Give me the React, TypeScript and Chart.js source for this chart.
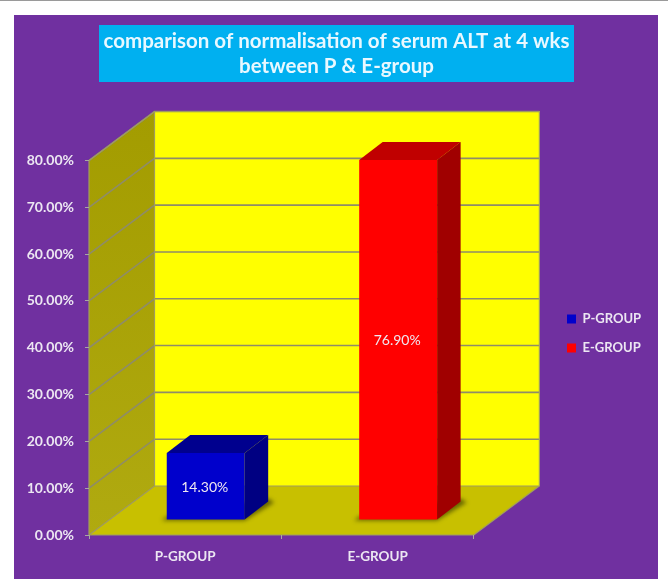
import React, { useEffect, useRef } from "react";
import { Chart, registerables } from "chart.js";

Chart.register(...registerables);

const categories = ["P-GROUP", "E-GROUP"];
const pGroupValues = [14.3, null];
const eGroupValues = [null, 76.9];
const valueLabels = ["14.30%", "76.90%"];
const titleLines = ["comparison of normalisation of serum ALT at 4 wks", "between P & E-group"];

const FONT = "Lato, 'Open Sans', sans-serif";
const TEXT = "#ece6f2";
const WALL_DX = 65.5;
const WALL_DY = -49;
const BAR_DX = 20.5;
const BAR_DY = -15;
const DEPTH_DX = 23.5;
const DEPTH_DY = -18;

const faceColors: Record<string, { top: string; side: string }> = {
  "P-GROUP": { top: "#00008e", side: "#000082" },
  "E-GROUP": { top: "#c00000", side: "#a00000" },
};

function poly(ctx: CanvasRenderingContext2D, pts: number[][], fill: string) {
  ctx.beginPath();
  pts.forEach(([x, y], i) => (i ? ctx.lineTo(x, y) : ctx.moveTo(x, y)));
  ctx.closePath();
  ctx.fillStyle = fill;
  ctx.fill();
}

const scene3d = {
  id: "scene3d",
  afterLayout(chart: any) {
    const lg = chart.legend;
    const h = lg.bottom - lg.top;
    const w = lg.right - lg.left;
    lg.left = 551;
    lg.right = 551 + w;
    lg.top = 296.5;
    lg.bottom = 296.5 + h;
    const t = chart.titleBlock;
    t.left = 0;
    t.right = 673;
  },
  beforeDraw(chart: any) {
    const { ctx, chartArea: a, scales } = chart;
    const y = scales.y;
    ctx.save();
    ctx.fillStyle = "#ffffff";
    ctx.fillRect(0, 0, chart.width, chart.height);
    ctx.fillStyle = "#9a9a9a";
    ctx.fillRect(0, 0, chart.width, 1);
    ctx.fillStyle = "#7030a0";
    ctx.fillRect(14, 15, 644, chart.height - 15);
    ctx.fillStyle = "#00b0f0";
    ctx.fillRect(99, 25, 475, 57);

    const bl = a.left + WALL_DX;
    const br = a.right + WALL_DX;
    const bt = a.top + WALL_DY;
    const bb = a.bottom + WALL_DY;
    // back wall
    poly(ctx, [[bl, bt], [br, bt], [br, bb], [bl, bb]], "#ffff00");
    // left wall
    const wall = ctx.createLinearGradient(0, bt, 0, a.bottom);
    wall.addColorStop(0, "#a39c00");
    wall.addColorStop(1, "#b0aa10");
    poly(ctx, [[a.left, a.top], [bl, bt], [bl, bb], [a.left, a.bottom]], wall);
    // floor
    poly(ctx, [[a.left, a.bottom], [a.right, a.bottom], [br, bb], [bl, bb]], "#c8c000");

    // gridlines through the walls
    ctx.lineWidth = 1.6;
    ctx.strokeStyle = "#8f8c68";
    y.ticks.forEach((t: any) => {
      if (t.value === 0) return;
      const py = y.getPixelForValue(t.value);
      ctx.beginPath();
      ctx.moveTo(a.left, py);
      ctx.lineTo(bl, py + WALL_DY);
      ctx.lineTo(br, py + WALL_DY);
      ctx.stroke();
    });
    ctx.strokeStyle = "#a09c60";
    ctx.lineWidth = 1.2;
    ctx.beginPath();
    ctx.moveTo(a.left, a.top);
    ctx.lineTo(a.left, a.bottom);
    ctx.lineTo(a.right, a.bottom);
    ctx.lineTo(br, bb);
    ctx.lineTo(br, bt);
    ctx.lineTo(bl, bt);
    ctx.lineTo(a.left, a.top);
    ctx.moveTo(a.left, a.bottom);
    ctx.lineTo(bl, bb);
    ctx.lineTo(br, bb);
    ctx.moveTo(bl, bb);
    ctx.lineTo(bl, bt);
    ctx.stroke();
    ctx.restore();
  },
  beforeDatasetsDraw(chart: any) {
    const { ctx } = chart;
    // contact shadows on the floor
    ctx.save();
    ctx.filter = "blur(2px)";
    chart.data.datasets.forEach((_: any, d: number) => {
      chart.getDatasetMeta(d).data.forEach((el: any, i: number) => {
        if (chart.data.datasets[d].data[i] == null) return;
        const l = el.x - el.width / 2 + BAR_DX;
        const r = el.x + el.width / 2 + BAR_DX;
        const b = el.base + BAR_DY;
        poly(ctx, [[l - 5, b + 1], [r, b + 1], [r + DEPTH_DX + 6, b + DEPTH_DY + 1], [r + DEPTH_DX, b + DEPTH_DY - 3], [l, b - 3]], "rgba(70,70,0,0.75)");
      });
    });
    ctx.restore();
    ctx.save();
    ctx.translate(BAR_DX, BAR_DY);
  },
  afterDatasetsDraw(chart: any) {
    const { ctx } = chart;
    ctx.restore();
    ctx.save();
    chart.data.datasets.forEach((_: any, d: number) => {
      chart.getDatasetMeta(d).data.forEach((el: any, i: number) => {
        if (chart.data.datasets[d].data[i] == null) return;
        const c = faceColors[categories[i]];
        const l = el.x - el.width / 2 + BAR_DX;
        const r = el.x + el.width / 2 + BAR_DX;
        const t = el.y + BAR_DY;
        const b = el.base + BAR_DY;
        poly(ctx, [[l, t], [l + DEPTH_DX, t + DEPTH_DY], [r + DEPTH_DX, t + DEPTH_DY], [r, t]], c.top);
        poly(ctx, [[r, t], [r + DEPTH_DX, t + DEPTH_DY], [r + DEPTH_DX, b + DEPTH_DY], [r, b]], c.side);
        ctx.font = `400 14px ${FONT}`;
        ctx.fillStyle = "#f0e8f0";
        ctx.textAlign = "center";
        ctx.textBaseline = "middle";
        ctx.fillText(valueLabels[i], (l + r) / 2 - 1, (t + b) / 2 + 1);
      });
    });
    ctx.restore();
  },
};

export default function App() {
  const ref = useRef<HTMLCanvasElement>(null);
  useEffect(() => {
    const chart = new Chart(ref.current!, {
      type: "bar",
      data: {
        labels: categories,
        datasets: [
          { label: "P-GROUP", data: pGroupValues, backgroundColor: "#0000cc", borderWidth: 0 },
          { label: "E-GROUP", data: eGroupValues, backgroundColor: "#ff0000", borderWidth: 0 },
        ],
      },
      options: {
        animation: false,
        responsive: false,
        events: [],
        categoryPercentage: 1,
        barPercentage: 0.405,
        layout: { padding: { top: 29, right: 94, bottom: 0, left: 0 } },
        scales: {
          x: {
            stacked: true,
            afterFit: (s: any) => { s.height = 44; },
            grid: { drawOnChartArea: false, drawTicks: true, tickLength: 4, color: "#a8a8a0" },
            border: { display: false },
            ticks: { color: TEXT, padding: 10, maxRotation: 0, font: { family: FONT, size: 13.5, weight: "bold" } },
          },
          y: {
            stacked: true,
            min: 0,
            max: 80,
            afterFit: (s: any) => { s.width = 89; },
            grid: { drawOnChartArea: false, drawTicks: true, tickLength: 4, color: "#a8a8a0" },
            border: { display: false },
            ticks: {
              stepSize: 10,
              color: TEXT,
              padding: 11,
              font: { family: FONT, size: 14, weight: "bold" },
              callback: (v: any) => `${Number(v).toFixed(2)}%`,
            },
          },
        },
        plugins: {
          tooltip: { enabled: false },
          title: {
            display: true,
            text: titleLines,
            color: "#e8f8ff",
            padding: { top: 0, bottom: 81.5 },
            font: { family: FONT, size: 20.5, weight: "bold", lineHeight: 1.22 },
          },
          legend: {
            display: true,
            position: "right",
            align: "start",
            labels: {
              color: TEXT,
              boxWidth: 9,
              boxHeight: 9,
              padding: 16,
              font: { family: FONT, size: 13, weight: "bold" },
            },
          },
        },
      } as any,
      plugins: [scene3d],
    });
    return () => chart.destroy();
  }, []);
  return (
    <div style={{ position: "fixed", left: 0, top: 0 }}>
      <canvas ref={ref} width={668} height={579} style={{ display: "block", filter: "blur(0.5px)" }} />
    </div>
  );
}
